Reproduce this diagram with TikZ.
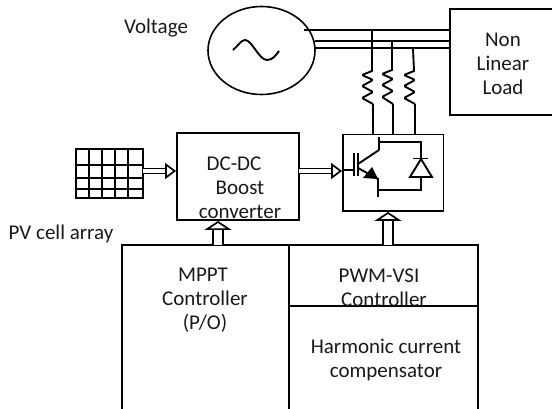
\documentclass[tikz,border=0pt]{standalone}
\usepackage{fontspec}
\setmainfont{Carlito}
\usetikzlibrary{arrows.meta,shapes.geometric}
\tikzset{
  wire/.style={line width=1.9pt,black},
  box/.style={draw=black,line width=1.9pt,rectangle,inner sep=0pt},
  openbox/.style={rectangle,inner sep=0pt},
  label/.style={inner sep=0pt,align=center,font=\fontsize{21}{24}\selectfont,text=black!90},
  hollowh/.style={line width=1.7pt,double,double distance=3.2pt,-{Triangle[open,length=11pt,width=16pt,line width=1.7pt,fill=white]}},
  hollowv/.style={line width=1.7pt,double,double distance=8.8pt,-{Triangle[open,length=9pt,width=27pt,line width=1.7pt,fill=white]}},
}
\begin{document}
\begin{tikzpicture}[x=1pt,y=-1pt]
\useasboundingbox (0,0) rectangle (552,409);
% source
\node[draw=black,line width=1.6pt,ellipse,minimum width=107pt,minimum height=88pt,inner sep=0pt] (src) at (261.5,50.5) {};
\draw[wire] (233,50) .. controls (238,46) and (241,40) .. (245,40) .. controls (252,40) and (259,60) .. (267,60) .. controls (273,60) and (276,55) .. (279,51);
% load
\node[openbox,minimum width=110pt,minimum height=106pt] (load) at (505,62) {};
\draw[wire] (load.north east) -- (load.north west) -- (load.south west) -- (load.south east);
\node[label] (loadtxt) at (503,64) {Non\\Linear\\Load};
% bus
\coordinate (b1) at (304,30);
\coordinate (b2) at (315,41);
\coordinate (b3) at (314,48);
\draw[wire] (b1) -- (b1 -| load.west);
\draw[wire] (b2) -- (b2 -| load.west);
\draw[wire] (b3) -- (b3 -| load.west);
% inverter
\node[box,minimum width=100.5pt,minimum height=76.5pt] (inv) at (393.25,172.75) {};
% phase branches
\foreach \n/\tx/\bx/\ty/\ly/\off in {1/372/373/30/71/0,2/392/393/41/70/20,3/413/415/48/71/42}{
  \coordinate (t\n) at (\tx,\ty);
  \coordinate (l\n) at (\bx,104);
  \draw[wire] (t\n) -- (\bx-1,\ly)
    [rounded corners=1.2pt] -- (362+\off,\ly+4) -- (373+\off,\ly+9) -- (362+\off,\ly+15) -- (373+\off,\ly+21) -- (362+\off,\ly+27)
    [sharp corners] -- (l\n);
  \draw[wire] (l\n) -- (l\n |- inv.north);
}
% IGBT
\coordinate (gate) at (354,170);
\draw[wire] (inv.west |- gate) -- (gate);
\draw[line width=1.9pt] (354,153) -- (354,176);
\draw[line width=1.9pt] (358,153) -- (358,176);
\draw[wire] (358,164) -- (379,150);
\draw[wire] (379,137) -- (379,150);
\draw[wire] (379,142) -- (421,142) -- (421,190) -- (378,190);
\draw[wire] (378,178) -- (378,197);
\draw[wire] (358,168) -- (378,179);
\fill[black] (363,178) -- (372,167) -- (378,179) -- cycle;
\draw[wire,fill=white,line join=miter] (421,159) -- (410,177) -- (432,177) -- cycle;
\draw[wire] (413,158.5) -- (428,158.5);
% PV grid
\node[openbox,minimum width=67pt,minimum height=49pt] (pv) at (109.5,173.5) {};
\draw[wire] (pv.north west) rectangle (pv.south east);
\foreach \gx in {89,102,115,128} \draw[wire] (\gx,149) -- (\gx,198);
\foreach \gy in {165,178,189} \draw[wire] (76,\gy) -- (143,\gy);
% DC-DC
\node[box,minimum width=122pt,minimum height=87pt] (dc) at (238,176.5) {};
\node[label] (dctxt) at (240,188) {DC-DC\hspace*{12pt}\\Boost\hspace*{9pt}\\converter};
% lower blocks
\node[openbox,minimum width=167pt,minimum height=170pt] (mppt) at (205.5,330) {};
\node[openbox,minimum width=189pt,minimum height=61pt] (pwm) at (383.5,275.5) {};
\node[openbox,minimum width=189pt,minimum height=109pt] (harm) at (383.5,360.5) {};
\draw[wire] (mppt.south west) -- (mppt.north west) -- (pwm.north east) -- (pwm.south east) -- (harm.south east);
\draw[wire] (mppt.north east) -- (mppt.south east);
\draw[wire] (pwm.south west) -- (pwm.south east);
\node[label] (mppttxt) at (205,300.5) {MPPT\hspace*{4pt}\\Controller\\(P/O)};
\node[label] (pwmtxt) at (381,288) {PWM-VSI\hspace*{4pt}\\\hspace*{6pt}Controller};
\node[label] (harmtxt) at (386,360) {Harmonic current\\compensator};
% hollow arrows
\coordinate (a1) at (218,245);
\coordinate (a2) at (388,245);
\coordinate (h1) at (143,171);
\coordinate (h2) at (299,171);
\draw[hollowh] (h1) -- (h1 -| dc.west);
\draw[hollowh] (h2) -- (h2 -| inv.west);
\draw[hollowv] (a1) -- (a1 |- dc.south);
\draw[hollowv] (a2) -- (a2 |- inv.south);
% free labels
\node[label] (volt) at (156,28) {Voltage};
\node[label] (pvtxt) at (61,234) {PV cell array};
\end{tikzpicture}
\end{document}
